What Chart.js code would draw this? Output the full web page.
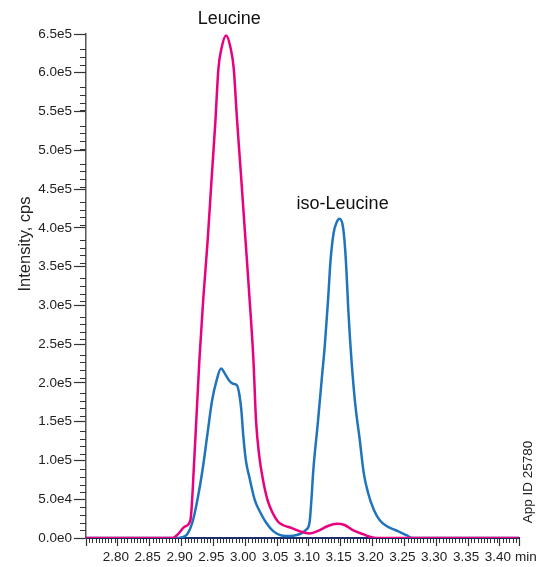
<!DOCTYPE html>
<html><head><meta charset="utf-8">
<script src="https://cdn.jsdelivr.net/npm/chart.js@4"></script>
<style>html,body{margin:0;padding:0;background:#fff}#wrap{width:538px;height:567px}</style>
</head><body>
<div id="wrap"><canvas id="c" width="538" height="567"></canvas></div>
<script>
// Retention time (min) and intensity (cps)
const leucineTime = [2.75, 2.878, 2.886, 2.896, 2.905, 2.914, 2.920, 2.928, 2.934, 2.941, 2.947, 2.953, 2.958, 2.963, 2.970, 2.977, 2.982, 2.987, 2.993, 3.000, 3.006, 3.013, 3.017, 3.022, 3.028, 3.035, 3.043, 3.051, 3.059, 3.073, 3.085, 3.101, 3.117, 3.130, 3.144, 3.156, 3.169, 3.185, 3.200, 3.211, 3.43];
const leucineIntensity = [0, 0, 0, 6500, 15000, 23500, 102000, 232000, 311000, 389000, 467000, 543000, 615000, 642000, 658000, 642000, 615000, 550000, 480000, 396000, 324000, 232000, 154000, 108000, 76000, 50000, 33000, 22000, 17000, 13000, 9000, 6000, 10400, 15700, 18500, 17000, 10400, 5000, 700, 0, 0];

const isoTime = [2.75, 2.895, 2.901, 2.909, 2.917, 2.925, 2.933, 2.941, 2.948, 2.955, 2.962, 2.969, 2.975, 2.981, 2.987, 2.991, 2.994, 2.997, 3.001, 3.007, 3.015, 3.024, 3.033, 3.044, 3.057, 3.070, 3.081, 3.090, 3.095, 3.101, 3.104, 3.107, 3.114, 3.120, 3.125, 3.130, 3.134, 3.139, 3.144, 3.148, 3.153, 3.156, 3.159, 3.162, 3.167, 3.173, 3.180, 3.186, 3.193, 3.202, 3.211, 3.222, 3.232, 3.243, 3.254, 3.263, 3.43];
const isoIntensity = [0, 0, 1000, 5000, 20000, 50000, 89000, 138000, 180000, 206000, 222000, 214000, 206000, 202000, 200000, 187000, 167000, 134000, 102000, 78000, 50000, 33000, 20000, 9000, 3300, 2600, 3900, 7000, 10400, 20000, 50000, 89000, 150000, 206000, 252000, 310000, 363000, 400000, 414000, 418000, 410000, 389000, 350000, 298000, 232000, 174000, 128000, 86000, 59000, 37000, 23500, 15700, 11700, 7800, 3300, 0, 0];

const xTickLabels = ['2.80','2.85','2.90','2.95','3.00','3.05','3.10','3.15','3.20','3.25','3.30','3.35','3.40'];
const yTickLabels = ['0.0e0','5.0e4','1.0e5','1.5e5','2.0e5','2.5e5','3.0e5','3.5e5','4.0e5','4.5e5','5.0e5','5.5e5','6.0e5','6.5e5'];

const peakNames = ['Leucine', 'iso-Leucine'];
const peakNameTime = [2.975, 3.153];
const peakNameIntensity = [679000, 437000];

const FONT = '"Liberation Sans", Arial, Helvetica, sans-serif';
const X_MIN = 2.75, X_MAX = 3.43, X_MINOR = 0.005, X_MAJOR_EVERY = 10;
const Y_MIN = 0, Y_MAX = 660000, Y_MINOR = 10000, Y_MAJOR_EVERY = 5;

const decor = {
  id: 'decor',
  afterDraw(chart) {
    const ctx = chart.ctx, xs = chart.scales.x, ys = chart.scales.y, ca = chart.chartArea;
    ctx.save();
    // minor ticks
    ctx.strokeStyle = '#333'; ctx.lineWidth = 1;
    const nx = Math.round((X_MAX - X_MIN) / X_MINOR);
    ctx.beginPath();
    for (let i = 0; i <= nx; i++) {
      if (i % X_MAJOR_EVERY === 0) continue;
      const px = Math.round(xs.getPixelForValue(X_MIN + i * X_MINOR)) + 0.5;
      ctx.moveTo(px, ca.bottom + 1); ctx.lineTo(px, ca.bottom + 5);
    }
    const ny = Math.round((Y_MAX - Y_MIN) / Y_MINOR);
    for (let i = 0; i <= ny; i++) {
      if (i % Y_MAJOR_EVERY === 0) continue;
      const py = Math.round(ys.getPixelForValue(Y_MIN + i * Y_MINOR)) + 0.5;
      ctx.moveTo(ca.left - 6, py); ctx.lineTo(ca.left, py);
    }
    ctx.stroke();
    // peak names
    ctx.fillStyle = '#111';
    ctx.font = '18px ' + FONT;
    ctx.textAlign = 'center'; ctx.textBaseline = 'middle';
    peakNames.forEach((n, i) => {
      ctx.fillText(n, xs.getPixelForValue(peakNameTime[i]), ys.getPixelForValue(peakNameIntensity[i]));
    });
    // unit label
    ctx.fillStyle = '#222';
    ctx.font = '13.5px ' + FONT;
    ctx.textAlign = 'left';
    ctx.fillText('min', 515, ca.bottom + 19);
    // y axis title
    ctx.save();
    ctx.translate(25, 244); ctx.rotate(-Math.PI / 2);
    ctx.font = '16.5px ' + FONT; ctx.textAlign = 'center';
    ctx.fillText('Intensity, cps', 0, 0);
    ctx.restore();
    // app id
    ctx.save();
    ctx.translate(528, 482); ctx.rotate(-Math.PI / 2);
    ctx.font = '13.5px ' + FONT; ctx.textAlign = 'center';
    ctx.fillText('App ID 25780', 0, 0);
    ctx.restore();
    ctx.restore();
  }
};

const toPoints = (t, v) => t.map((x, i) => ({x, y: v[i]}));

new Chart(document.getElementById('c'), {
  type: 'line',
  data: {
    datasets: [
      { label: 'Leucine', data: toPoints(leucineTime, leucineIntensity), borderColor: '#e8007f', borderWidth: 2.5, pointRadius: 0, cubicInterpolationMode: 'monotone', fill: false },
      { label: 'iso-Leucine', data: toPoints(isoTime, isoIntensity), borderColor: '#1f74bd', borderWidth: 2.5, pointRadius: 0, cubicInterpolationMode: 'monotone', fill: false }
    ]
  },
  options: {
    responsive: false, animation: false, devicePixelRatio: 1,
    layout: { padding: { top: 34, right: 19, left: 0, bottom: 0 } },
    plugins: { legend: { display: false }, tooltip: { enabled: false } },
    scales: {
      x: {
        type: 'linear', min: X_MIN, max: X_MAX, bounds: 'data', z: 1,
        afterFit(s) { s.height = 29; },
        border: { color: '#1b2c66', width: 2 },
        grid: { drawOnChartArea: false, tickLength: 8, tickColor: '#333', tickWidth: 1.2 },
        ticks: {
          stepSize: 0.05, includeBounds: false, autoSkip: false, maxRotation: 0, padding: 3, labelOffset: -2,
          color: '#222', font: { size: 13.5, family: FONT },
          callback: (v) => { const s = Number(v).toFixed(2); return xTickLabels.includes(s) ? s : ''; }
        }
      },
      y: {
        min: Y_MIN, max: Y_MAX, bounds: 'data',
        afterFit(s) { s.width = 86; },
        border: { color: '#555', width: 1.5 },
        grid: { drawOnChartArea: false, tickLength: 12, tickColor: '#333', tickWidth: 1.2 },
        ticks: {
          stepSize: 50000, includeBounds: false, autoSkip: false, padding: 2,
          color: '#222', font: { size: 13.5, family: FONT },
          callback: (v) => { const i = Math.round(v / 50000); return yTickLabels[i] !== undefined ? yTickLabels[i] : ''; }
        }
      }
    }
  },
  plugins: [decor]
});
</script>
</body></html>
